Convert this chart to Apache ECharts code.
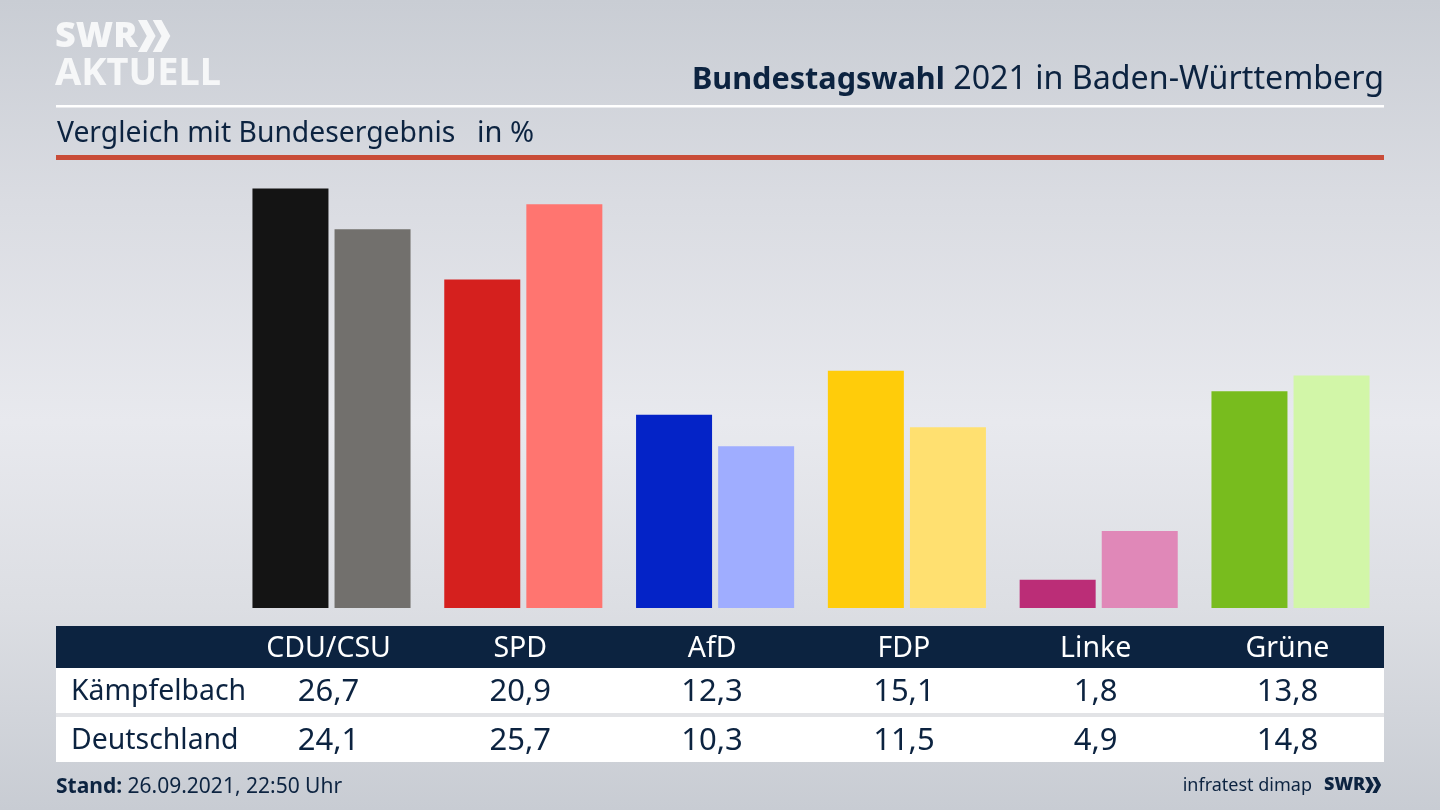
<!DOCTYPE html>
<html lang="de" style="height: 100%">
<head>
  <meta charset="utf-8">
</head>
<body style="height: 100%; margin: 0">
  <div id="container" style="width: 1440px; height: 810px"></div>
  <script src="https://cdn.jsdelivr.net/npm/echarts@6/dist/echarts.min.js"></script>
  <script>
    const parties = ['CDU/CSU', 'SPD', 'AfD', 'FDP', 'Linke', 'Grüne'];
    const regionName = 'Kämpfelbach';
    const nationName = 'Deutschland';
    const regionValues = [26.7, 20.9, 12.3, 15.1, 1.8, 13.8];
    const nationValues = [24.1, 25.7, 10.3, 11.5, 4.9, 14.8];
    const regionColors = ['#141414', '#d5201e', '#0423c7', '#ffcc0a', '#bb2d77', '#78bc1e'];
    const nationColors = ['#72706d', '#ff7570', '#9fadff', '#ffe070', '#e088b8', '#d2f6a8'];

    const navy = '#0c2340';
    const font = '"Noto Sans", sans-serif';
    const fmt = v => v.toFixed(1).replace('.', ',');

    const chart = echarts.init(document.getElementById('container'), null, { renderer: 'canvas' });

    function rect(x, y, w, h, fill, z) {
      return { type: 'rect', z: z || 0, shape: { x: x, y: y, width: w, height: h }, style: { fill: fill } };
    }
    function text(x, y, str, size, color, align, weight) {
      return {
        type: 'text', z: 5, x: x, y: y,
        style: { text: str, font: (weight || 'normal') + ' ' + size + 'px ' + font, fill: color, align: align || 'left', verticalAlign: 'middle' }
      };
    }
    function chevrons(x, y, h, fill) {
      // the two arrows of the SWR logo
      const w = h * 0.55, t = h * 0.46;
      return [0, 1].map(i => ({
        type: 'polygon', z: 5,
        shape: { points: [[x + i * t, y], [x + i * t + w * 0.5, y], [x + i * t + w, y + h / 2], [x + i * t + w * 0.5, y + h], [x + i * t, y + h], [x + i * t + w * 0.5, y + h / 2]] },
        style: { fill: fill }
      }));
    }

    chart.setOption({
      animation: false,
      backgroundColor: {
        type: 'linear', x: 0, y: 0, x2: 0, y2: 1,
        colorStops: [
          { offset: 0, color: '#c9cdd4' },
          { offset: 0.25, color: '#dadce2' },
          { offset: 0.52, color: '#e8e9ee' },
          { offset: 0.75, color: '#dcdee3' },
          { offset: 1, color: '#c8ccd3' }
        ]
      },
      grid: { left: 235.6, width: 1150.8, top: 168, height: 440 },
      xAxis: {
        type: 'category',
        data: parties,
        axisLine: { show: false },
        axisTick: { show: false },
        axisLabel: { color: '#ffffff', fontFamily: font, fontSize: 28.5, margin: 26, padding: [0, 6, 0, 0] },
        z: 10
      },
      yAxis: { type: 'value', min: 0, max: 28, show: false, splitLine: { show: false } },
      series: [
        {
          name: regionName, type: 'bar', barWidth: 76, barGap: '8%',
          data: regionValues.map((v, i) => ({ value: v, itemStyle: { color: regionColors[i] } }))
        },
        {
          name: nationName, type: 'bar', barWidth: 76,
          data: nationValues.map((v, i) => ({ value: v, itemStyle: { color: nationColors[i] } }))
        }
      ]
    });

    const elements = [
      rect(56, 105, 1328, 2.5, '#ffffff'),
      rect(56, 155, 1328, 5, '#c94c38'),
      rect(56, 626, 1328, 42, navy),
      rect(56, 668, 1328, 45, '#ffffff'),
      rect(56, 713, 1328, 4, '#e2e3e6'),
      rect(56, 717, 1328, 45, '#ffffff'),
      text(55, 37, 'SWR', 36, '#f6f7f8', 'left', 900),
      text(55, 74, 'AKTUELL', 38, '#f6f7f8', 'left', 'bold'),
      ...chevrons(138, 20, 32, '#f6f7f8'),
      {
        type: 'text', z: 5, x: 1384, y: 80,
        style: {
          text: '{b|Bundestagswahl} 2021 in Baden-Württemberg',
          font: '32.2px ' + font, fill: navy, align: 'right', verticalAlign: 'middle',
          rich: { b: { font: 'bold 30.6px ' + font, fill: navy } }
        }
      },
      text(57, 134, 'Vergleich mit Bundesergebnis', 28.3, navy),
      text(477, 134, 'in %', 29, navy),
      text(71, 692, regionName, 28.4, navy),
      text(71, 741, nationName, 28.4, navy),
      {
        type: 'text', z: 5, x: 56, y: 787,
        style: {
          text: '{b|Stand:} 26.09.2021, 22:50 Uhr',
          font: '21px ' + font, fill: navy, align: 'left', verticalAlign: 'middle',
          rich: { b: { font: 'bold 21px ' + font, fill: navy } }
        }
      },
      text(1312, 786, 'infratest dimap', 18, navy, 'right'),
      text(1324, 785, 'SWR', 18, navy, 'left', 900),
      ...chevrons(1365, 777, 16, navy)
    ];

    // table cells sit under the category bands of the x axis
    parties.forEach((p, i) => {
      const x = chart.convertToPixel({ xAxisIndex: 0 }, p);
      elements.push(text(x - 3, 692, fmt(regionValues[i]), 31, navy, 'center'));
      elements.push(text(x - 3, 741, fmt(nationValues[i]), 31, navy, 'center'));
    });

    chart.setOption({ graphic: { elements: elements } });
    window.addEventListener('resize', chart.resize);
  </script>
</body>
</html>
